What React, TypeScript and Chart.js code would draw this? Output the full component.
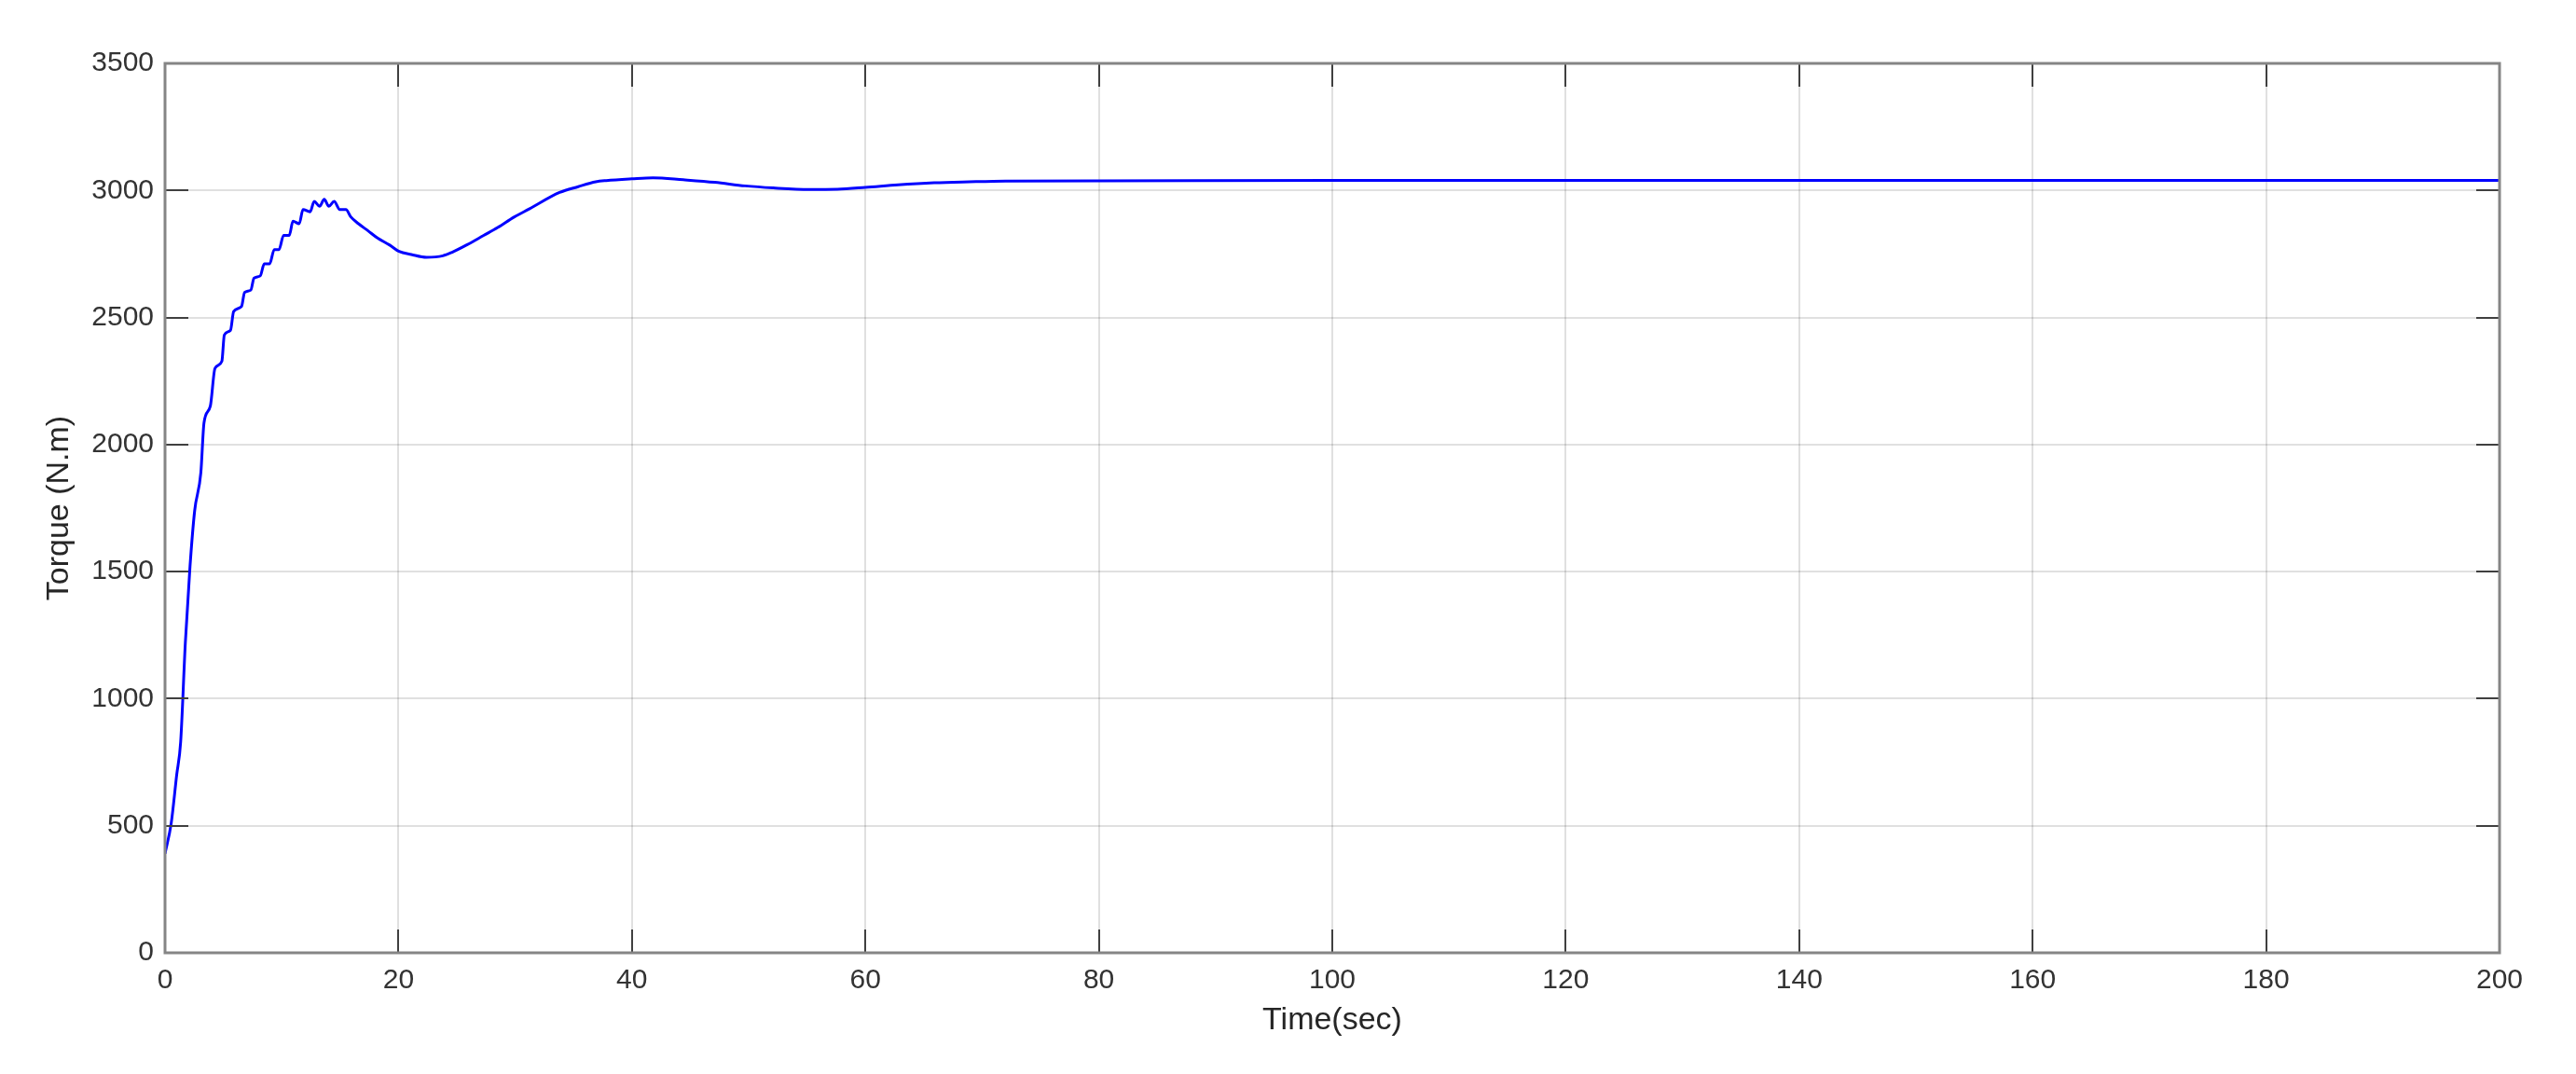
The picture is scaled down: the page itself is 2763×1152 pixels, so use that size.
import React, { useEffect, useRef } from "react";
import { Chart, registerables } from "chart.js";

Chart.register(...registerables);

// Time axis (sec)
const TIME = [
  0, 0.53, 1.0, 1.34, 1.74, 2.14, 2.54, 3.07, 3.34, 3.88, 4.28, 4.87, 5.08, 5.61, 5.88, 6.55, 6.82,
  7.35, 7.62, 8.16, 8.5, 8.96, 9.36, 9.76, 10.16, 10.64, 10.96, 11.5, 11.82, 12.43, 12.78, 13.24,
  13.64, 14.04, 14.49, 14.97, 15.5, 15.9, 16.58, 17.4, 18.2, 19.25, 20.05, 21.1, 22.4, 23.8, 24.6,
  25.9, 27.3, 28.5, 29.9, 31.2, 33.8, 35.4, 36.9, 37.8, 40, 41.8, 44.4, 47.1, 49.7, 52.1, 55.2, 57.6,
  60, 62.8, 65.9, 68.9, 72, 80, 100, 120, 140, 160, 180, 200,
];

// Torque (N.m)
const TORQUE = [
  390, 510, 700, 830, 1220, 1520, 1740, 1890, 2086, 2151, 2300, 2328, 2431, 2450, 2524, 2543, 2599,
  2608, 2655, 2664, 2711, 2711, 2767, 2767, 2823, 2823, 2879, 2869, 2925, 2916, 2957, 2938,
  2965, 2938, 2957, 2925, 2925, 2897, 2869, 2841, 2813, 2785, 2760, 2748, 2737, 2743, 2757,
  2787, 2823, 2854, 2895, 2927, 2992, 3015, 3034, 3039, 3046, 3050, 3042, 3032, 3018, 3010, 3004, 3005,
  3012, 3022, 3030, 3034, 3037, 3038, 3040, 3040, 3040, 3040, 3040, 3040,
];

const X_MIN = 0;
const X_MAX = 200;
const X_STEP = 20;
const Y_MIN = 0;
const Y_MAX = 3500;
const Y_STEP = 500;

const X_LABEL = "Time(sec)";
const Y_LABEL = "Torque (N.m)";

const FONT = "'Liberation Sans', Arial, Helvetica, sans-serif";

const boxPlugin = {
  id: "matlabBox",
  afterDatasetsDraw(chart: any) {
    const { ctx, chartArea } = chart;
    const { left, right, top, bottom } = chartArea;
    const xs = chart.scales.x;
    const ys = chart.scales.y;
    const len = 25;
    ctx.save();
    ctx.strokeStyle = "#404040";
    ctx.lineWidth = 2;
    ctx.beginPath();
    xs.ticks.forEach((t: any) => {
      const px = Math.round(xs.getPixelForValue(t.value));
      ctx.moveTo(px, bottom);
      ctx.lineTo(px, bottom - len);
      ctx.moveTo(px, top);
      ctx.lineTo(px, top + len);
    });
    ys.ticks.forEach((t: any) => {
      const py = Math.round(ys.getPixelForValue(t.value));
      ctx.moveTo(left, py);
      ctx.lineTo(left + len, py);
      ctx.moveTo(right, py);
      ctx.lineTo(right - len, py);
    });
    ctx.stroke();
    ctx.strokeStyle = "#858585";
    ctx.lineWidth = 3;
    ctx.strokeRect(left, top, right - left, bottom - top);
    ctx.restore();
  },
};

const plain = (v: any) => String(v);

export default function App() {
  const ref = useRef<HTMLCanvasElement | null>(null);

  useEffect(() => {
    document.body.style.margin = "0";
    document.documentElement.style.overflow = "hidden";
    const canvas = ref.current;
    if (!canvas) return;
    const points = TIME.map((t, i) => ({ x: t, y: TORQUE[i] }));
    const chart = new Chart(canvas, {
      type: "line",
      data: {
        datasets: [
          {
            data: points,
            borderColor: "#0000ff",
            borderWidth: 3,
            pointRadius: 0,
            fill: false,
            cubicInterpolationMode: "monotone",
          },
        ],
      },
      options: {
        animation: false,
        responsive: true,
        maintainAspectRatio: false,
        layout: { padding: { left: 0, top: 68, right: 82, bottom: 0 } },
        plugins: {
          legend: { display: false },
          tooltip: { enabled: false },
        },
        scales: {
          x: {
            type: "linear",
            min: X_MIN,
            max: X_MAX,
            border: { display: false },
            grid: { color: "rgba(0,0,0,0.12)", lineWidth: 2, drawTicks: false },
            ticks: {
              stepSize: X_STEP,
              padding: 12,
              color: "#333333",
              font: { family: FONT, size: 30 },
              maxRotation: 0,
              callback: plain,
            },
            title: {
              display: true,
              text: X_LABEL,
              color: "#262626",
              font: { family: FONT, size: 34 },
              padding: { top: 0, bottom: 37 },
            },
            afterFit: (s: any) => {
              s.height = 130;
            },
          },
          y: {
            type: "linear",
            min: Y_MIN,
            max: Y_MAX,
            border: { display: false },
            grid: { color: "rgba(0,0,0,0.12)", lineWidth: 2, drawTicks: false },
            ticks: {
              stepSize: Y_STEP,
              padding: 12,
              color: "#333333",
              font: { family: FONT, size: 30 },
              callback: plain,
            },
            title: {
              display: true,
              text: Y_LABEL,
              color: "#262626",
              font: { family: FONT, size: 34 },
              padding: { top: 43, bottom: 0 },
            },
            afterFit: (s: any) => {
              s.width = 177;
            },
          },
        },
      },
      plugins: [boxPlugin],
    });
    return () => chart.destroy();
  }, []);

  return (
    <div style={{ width: 2763, height: 1152, position: "relative", background: "#ffffff" }}>
      <canvas ref={ref} />
    </div>
  );
}
